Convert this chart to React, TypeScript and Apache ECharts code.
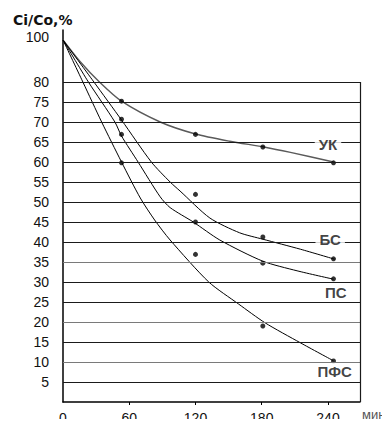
import React, { useEffect, useRef } from 'react';
import * as echarts from 'echarts';

// ---- data ----
const xTickValues = [0, 60, 120, 180, 240];
const yTickValues = [5, 10, 15, 20, 25, 30, 35, 40, 45, 50, 55, 60, 65, 70, 75, 80];
const yTopValue = 100;
const xUnit = 'мин';
const yTitle = 'Ci/Co,%';

const names = ['УК', 'БС', 'ПС', 'ПФС'];

// fitted curves as drawn (time, %)
const curveUK = [[0, 100], [15, 90], [33, 80], [53, 75.2], [88, 70], [120, 67], [151, 65.2], [183, 63.7], [206, 62.4], [245, 60]];
const curveBS = [[0, 100], [28, 80], [53, 70.5], [80, 60], [97, 55], [106, 52.75], [133, 46], [160, 42.3], [181, 40.7], [215, 38.2], [246, 35.7]];
const curvePS = [[0, 100], [23, 80], [47, 70], [53, 66.5], [68, 60], [88, 51.3], [97, 48.6], [118, 45], [142, 40.5], [181, 35.2], [212, 32.8], [245, 30.7]];
const curvePFS = [[0, 100], [18, 80], [35, 70], [53, 60], [70, 51], [83, 45.5], [97, 40.5], [132, 30], [159, 24.5], [183, 19.8], [215, 14.8], [245, 10.3]];

// measured points (time, %)
const pointsUK = [[53, 75.2], [120, 66.9], [181, 63.75], [245, 59.8]];
const pointsBS = [[53, 70.7], [120, 51.9], [181, 41.25], [245, 35.8]];
const pointsPS = [[53, 66.9], [120, 45], [181, 34.7], [245, 30.8]];
const pointsPFS = [[53, 59.8], [120, 36.9], [181, 19], [245, 10.25]];

// where each curve name sits (time, %)
const labelAnchors = [[240, 64.5], [242, 40.75], [247, 27.5], [246, 7.75]];

// ---- axis break: values above 80 are squeezed ----
const BREAK = 80;
const SQUEEZE = 0.525;
const toAxis = (v: number) => (v <= BREAK ? v : BREAK + (v - BREAK) * SQUEEZE);
const conv = (arr: number[][]) => arr.map(([t, v]) => [t, toAxis(v)]);

const NUM_FONT = '"Liberation Sans", Arial, sans-serif';

export default function App() {
  const ref = useRef<HTMLDivElement>(null);

  useEffect(() => {
    if (!ref.current) return;
    const chart = echarts.init(ref.current, undefined, { renderer: 'svg' });

    const curves = [curveUK, curveBS, curvePS, curvePFS];
    const points = [pointsUK, pointsBS, pointsPS, pointsPFS];
    const grayLines = [10, 20, 35];

    const series: any[] = [];

    series.push({
      type: 'line',
      data: [],
      z: 1,
      silent: true,
      markLine: {
        silent: true,
        symbol: ['none', 'none'],
        label: { show: false },
        animation: false,
        data: [
          ...yTickValues.map((v) => ({
            yAxis: v,
            lineStyle: { color: grayLines.includes(v) ? '#7a7a7a' : '#1a1a1a', width: 1, type: 'solid' },
          })),
          [
            { coord: [269, 0], lineStyle: { color: '#1a1a1a', width: 1.2, type: 'solid' } },
            { coord: [269, BREAK] },
          ],
        ],
      },
    });

    curves.forEach((c, i) => {
      series.push({
        type: 'line',
        name: names[i],
        data: conv(c),
        smooth: 0.25,
        showSymbol: false,
        z: 3,
        lineStyle: { color: i === 0 ? '#5a5a5a' : '#000', width: i === 0 ? 1.4 : 1 },
      });
    });

    points.forEach((p, i) => {
      series.push({
        type: 'scatter',
        name: names[i] + ' pts',
        data: conv(p),
        symbol: 'circle',
        symbolSize: 5,
        z: 4,
        itemStyle: { color: '#000' },
      });
    });

    series.push({
      type: 'scatter',
      data: labelAnchors.map((a, i) => ({ value: conv([a])[0], name: names[i] })),
      symbolSize: 0,
      z: 6,
      label: {
        show: true,
        position: 'inside',
        formatter: (p: any) => p.name,
        color: '#111',
        fontFamily: NUM_FONT,
        fontWeight: 'bold',
        fontSize: 15,
        backgroundColor: '#fff',
        padding: [1, 4, 0, 4],
      },
    });

    chart.setOption({
      animation: false,
      backgroundColor: '#fff',
      title: {
        text: yTitle,
        left: 8,
        top: 8,
        textStyle: { fontFamily: '"DejaVu Sans", sans-serif', fontWeight: 'bold', fontSize: 14, color: '#111' },
      },
      graphic: [
        {
          type: 'text',
          left: 362,
          top: 408,
          style: { text: xUnit, fill: '#555', font: '13px "Liberation Sans", Arial, sans-serif' },
        },
      ],
      grid: { left: 63, right: 30, top: 30, bottom: 25 },
      xAxis: {
        type: 'value',
        min: 0,
        max: 269,
        axisLine: { show: true, lineStyle: { color: '#000', width: 1.5 } },
        axisTick: { show: true, length: 3, customValues: xTickValues.slice(1), lineStyle: { color: '#000' } },
        axisLabel: { customValues: xTickValues, color: '#111', fontFamily: NUM_FONT, fontSize: 14, margin: 9 },
        splitLine: { show: false },
      },
      yAxis: {
        type: 'value',
        min: 0,
        max: 93,
        axisLine: { show: true, lineStyle: { color: '#000', width: 1.5 } },
        axisTick: { show: false },
        axisLabel: {
          customValues: [...yTickValues, toAxis(yTopValue)],
          formatter: (v: number) => (v > BREAK ? '{top|' + yTopValue + '}' : String(v)),
          color: '#111',
          fontFamily: NUM_FONT,
          fontSize: 14,
          margin: 14,
          rich: { top: { fontFamily: NUM_FONT, fontSize: 14, color: '#111', padding: [0, 0, 7, 0] } },
        },
        splitLine: { show: false },
      },
      series,
    });

    return () => chart.dispose();
  }, []);

  return <div ref={ref} style={{ width: 390, height: 427, margin: -8 }} />;
}
